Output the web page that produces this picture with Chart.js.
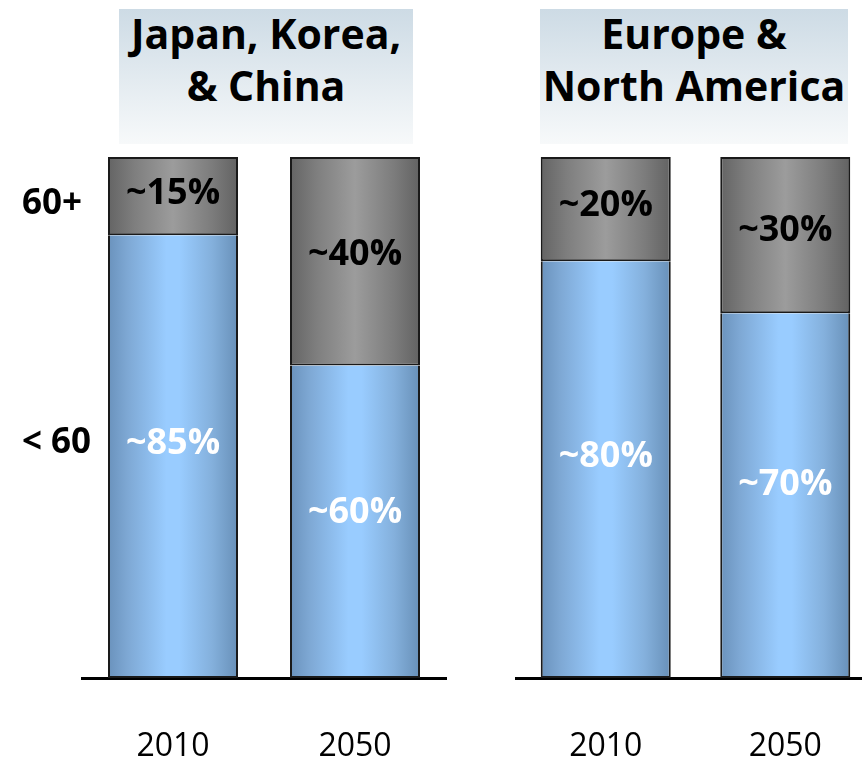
<!DOCTYPE html>
<html>
<head>
<meta charset="utf-8">
<script src="https://cdn.jsdelivr.net/npm/chart.js@4.4.1/dist/chart.umd.min.js"></script>
<style>
  html, body { margin: 0; padding: 0; background: #fff; width: 862px; height: 761px; overflow: hidden; }
  .wrap { position: relative; width: 862px; height: 761px; overflow: hidden; }
  canvas { position: absolute; top: 0; }
  .title {
    position: absolute; top: 9px; height: 135px;
    font: bold 41px 'Open Sans', sans-serif; line-height: 52px;
    text-align: center; color: #000; white-space: nowrap;
    background: linear-gradient(#cddbe5, #f7f9fa);
  }
  .title span { position: relative; top: -2px; }
</style>
</head>
<body>
<div class="wrap">
  <div class="title" style="left:119px; width:294px;"><span>Japan, Korea,<br>&amp; China</span></div>
  <div class="title" style="left:540px; width:308px;"><span>Europe &amp;<br>North America</span></div>
  <canvas id="asia" width="470" height="761" style="left:0;"></canvas>
  <canvas id="west" width="380" height="761" style="left:500px;"></canvas>
</div>
<script>
// share of population by age, in percent
const years = ['2010', '2050'];
const ageGroups = ['< 60', '60+'];
const asiaUnder60 = [85, 60];
const asiaOver60 = [15, 40];
const westUnder60 = [80, 70];
const westOver60 = [20, 30];

// labels sit a little above the middle of each segment
const LABEL_POS = 0.47;

Chart.defaults.font.family = "'Open Sans', sans-serif";
Chart.defaults.color = '#000';

const blueStops = [[0, '#6a92bc'], [0.15, '#7ea8d4'], [0.45, '#99ccff'], [0.55, '#99ccff'], [0.8, '#84b0dc'], [1, '#6890b8']];
const grayStops = [[0, '#646464'], [0.2, '#7e7e7e'], [0.5, '#9c9c9c'], [0.8, '#7c7c7c'], [1, '#626262']];

// horizontal shading across each bar
function barGradient(stops, pct) {
    return (ctx) => {
        const chart = ctx.chart;
        const xs = chart.scales.x;
        if (ctx.type !== 'data' || !chart.chartArea || !xs) return stops[2][1];
        const cx = xs.getPixelForValue(ctx.dataIndex);
        const half = xs.width / chart.data.labels.length * pct / 2;
        const g = chart.ctx.createLinearGradient(cx - half, 0, cx + half, 0);
        stops.forEach(([o, c]) => g.addColorStop(o, c));
        return g;
    };
}

const valueLabels = {
    id: 'valueLabels',
    afterDatasetsDraw(chart) {
        const ctx = chart.ctx;
        ctx.save();
        ctx.font = "bold 36px 'Open Sans', sans-serif";
        ctx.textAlign = 'center';
        ctx.textBaseline = 'middle';
        chart.data.datasets.forEach((ds, i) => {
            ctx.fillStyle = ds.labelColor;
            chart.getDatasetMeta(i).data.forEach((bar, j) => {
                const { x, y, base } = bar.getProps(['x', 'y', 'base'], true);
                ctx.fillText('~' + ds.data[j] + '%', x, y + (base - y) * LABEL_POS);
            });
        });
        ctx.restore();
    }
};

// age group names to the left, level with the first bar's segments
const ageLabels = {
    id: 'ageLabels',
    afterDraw(chart, args, opts) {
        if (!opts.show) return;
        const ys = chart.scales.y;
        const under = chart.data.datasets[0].data[0];
        const over = chart.data.datasets[1].data[0];
        const ctx = chart.ctx;
        ctx.save();
        ctx.font = "bold 35px 'Open Sans', sans-serif";
        ctx.fillStyle = '#000';
        ctx.textAlign = 'left';
        ctx.textBaseline = 'middle';
        ctx.fillText(ageGroups[0], opts.x, ys.getPixelForValue(under * (1 - LABEL_POS)));
        ctx.fillText(ageGroups[1], opts.x, ys.getPixelForValue(under + over * 0.4));
        ctx.restore();
    }
};

function makeChart(id, under, over, pct, padding, showAges) {
    const blue = barGradient(blueStops, pct);
    const gray = barGradient(grayStops, pct);
    return new Chart(document.getElementById(id), {
        type: 'bar',
        data: {
            labels: years,
            datasets: [
                {
                    label: ageGroups[0], data: under, backgroundColor: blue, labelColor: '#fff',
                    borderWidth: { top: 0, left: 2, right: 2, bottom: 2 }
                },
                {
                    label: ageGroups[1], data: over, backgroundColor: gray, labelColor: '#000',
                    borderWidth: 2
                }
            ]
        },
        options: {
            responsive: false,
            animation: false,
            events: [],
            layout: { padding: padding },
            datasets: {
                bar: {
                    barPercentage: pct,
                    categoryPercentage: 1,
                    borderColor: '#1a1a1a',
                    borderSkipped: false
                }
            },
            plugins: {
                legend: { display: false },
                tooltip: { enabled: false },
                ageLabels: { show: showAges, x: 22 }
            },
            scales: {
                x: {
                    stacked: true,
                    grid: { display: false },
                    border: { display: true, color: '#000', width: 3 },
                    ticks: { font: { size: 32 }, padding: 42 },
                    afterFit: (s) => { s.height = 83; }
                },
                y: {
                    stacked: true,
                    min: 0,
                    max: 100,
                    display: false
                }
            }
        },
        plugins: [valueLabels, ageLabels]
    });
}

makeChart('asia', asiaUnder60, asiaOver60, 130 / 182, { left: 82, right: 24, top: 157, bottom: 0 }, true);
makeChart('west', westUnder60, westOver60, 130 / 179.5, { left: 16, right: 5, top: 157, bottom: 0 }, false);
</script>
</body>
</html>
